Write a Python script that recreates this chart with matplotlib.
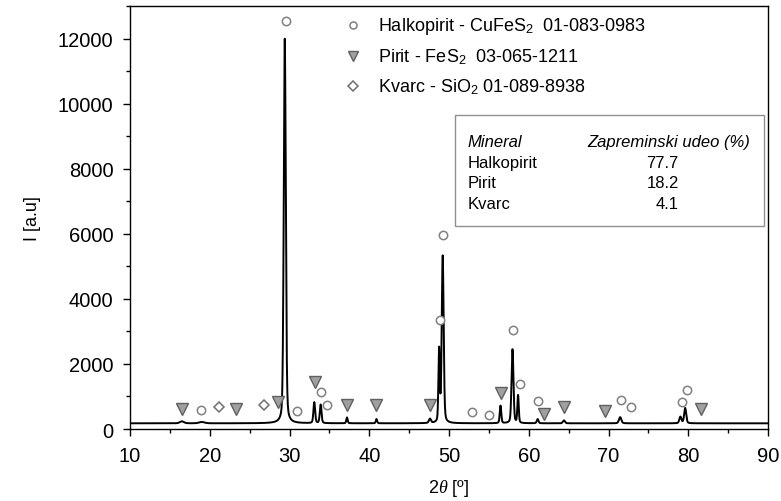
import numpy as np
import matplotlib.pyplot as plt
from matplotlib.ticker import MultipleLocator

plt.rcParams['font.family'] = ['Liberation Sans', 'DejaVu Sans']
plt.rcParams['mathtext.fontset'] = 'custom'
plt.rcParams['mathtext.rm'] = 'Liberation Sans'
plt.rcParams['mathtext.it'] = 'Liberation Serif:italic'

# peaks of the XRD trace: position (2theta), height above background, width (FWHM)
peak_pos = [16.5, 19.0, 29.4, 33.1, 33.9, 37.2, 40.9, 47.6, 48.75, 49.2,
            56.45, 57.95, 58.65, 61.1, 64.4, 71.45, 79.0, 79.6]
peak_h = [60, 40, 11820, 640, 570, 180, 130, 130, 2230, 5130,
          540, 2280, 850, 130, 90, 190, 200, 470]
peak_w = [0.6, 0.8, 0.3, 0.25, 0.25, 0.2, 0.2, 0.3, 0.2, 0.28,
          0.22, 0.28, 0.2, 0.25, 0.3, 0.35, 0.3, 0.3]
background = 175

# phase markers
halko_x = [29.5, 18.9, 30.9, 33.9, 34.7, 48.8, 49.2, 52.85, 55.05, 58.05,
           58.9, 61.1, 71.5, 72.8, 79.2, 79.8]
halko_y = [12530, 584, 564, 1149, 748, 3354, 5969, 513, 441, 3056,
           1385, 851, 902, 667, 841, 1200]
pirit_x = [16.5, 23.3, 28.6, 33.2, 37.25, 40.85, 47.6, 56.5, 61.9, 64.45, 69.55, 81.6]
pirit_y = [615, 615, 841, 1436, 748, 748, 748, 1108, 462, 667, 543, 615]
kvarc_x = [21.1, 26.8]
kvarc_y = [667, 748]

legend_labels = ['Halkopirit - CuFeS$_2$  01-083-0983',
                 'Pirit - FeS$_2$  03-065-1211',
                 'Kvarc - SiO$_2$ 01-089-8938']

minerals = ['Halkopirit', 'Pirit', 'Kvarc']
udeo = ['77.7', '18.2', '4.1']

tt = np.arange(10, 90.001, 0.02)
inten = np.full_like(tt, background, dtype=float)
for p, h, w in zip(peak_pos, peak_h, peak_w):
    g = np.exp(-4 * np.log(2) * ((tt - p) / w) ** 2)
    l = 1 / (1 + 4 * ((tt - p) / w) ** 2)
    inten += h * (0.7 * g + 0.3 * l)

fig = plt.figure(figsize=(7.81, 5.02), dpi=100)
ax = fig.add_axes([0.1665, 0.1434, 0.817, 0.8426])
ax.plot(tt, inten, color='black', lw=1.4)

circ = dict(ls='none', marker='o', ms=6, mfc='white', mec='#808080', mew=1.1)
tri = dict(ls='none', marker='v', ms=8, mfc='#a0a0a0', mec='#606060', mew=1.0)
dia = dict(ls='none', marker='D', ms=5.5, mfc='white', mec='#707070', mew=1.1)
ax.plot(halko_x, halko_y, **circ)
ax.plot(pirit_x, pirit_y, **tri)
ax.plot(kvarc_x, kvarc_y, **dia)

# legend (drawn by hand)
leg_y = [0.955, 0.882, 0.811]
for sty, lab, yy in zip([circ, tri, dia], legend_labels, leg_y):
    ax.plot([0.349], [yy], transform=ax.transAxes, **dict(sty, ms=sty['ms'] * 0.85))
    ax.text(0.389, yy, lab, transform=ax.transAxes, fontsize=13, va='center', ha='left')

# table box
ax.add_patch(plt.Rectangle((0.509, 0.480), 0.485, 0.262, transform=ax.transAxes,
                           fill=False, ec='#909090', lw=1.0))
ax.text(0.529, 0.680, 'Mineral', transform=ax.transAxes, fontsize=12,
        style='italic', va='center')
ax.text(0.716, 0.680, 'Zapreminski udeo (%)', transform=ax.transAxes, fontsize=12,
        style='italic', va='center')
for i, (m, u) in enumerate(zip(minerals, udeo)):
    yy = 0.631 - i * 0.049
    ax.text(0.529, yy, m, transform=ax.transAxes, fontsize=12, va='center')
    ax.text(0.860, yy, u, transform=ax.transAxes, fontsize=12, va='center', ha='right')

ax.set_xlim(10, 90)
ax.set_ylim(0, 13000)
ax.set_xticks(np.arange(10, 91, 10))
ax.set_yticks(np.arange(0, 12001, 2000))
ax.xaxis.set_minor_locator(MultipleLocator(5))
ax.yaxis.set_minor_locator(MultipleLocator(1000))
ax.tick_params(which='major', direction='out', length=5, width=1, labelsize=14.5, pad=7)
ax.tick_params(which='minor', direction='out', length=3, width=1)
for s in ax.spines.values():
    s.set_linewidth(1.0)

ax.set_xlabel(r'2$\mathit{\theta}$ [º]', fontsize=13, labelpad=9)
ax.set_ylabel('I [a.u]', fontsize=13, labelpad=12)

fig.savefig('out.png', dpi=100)
